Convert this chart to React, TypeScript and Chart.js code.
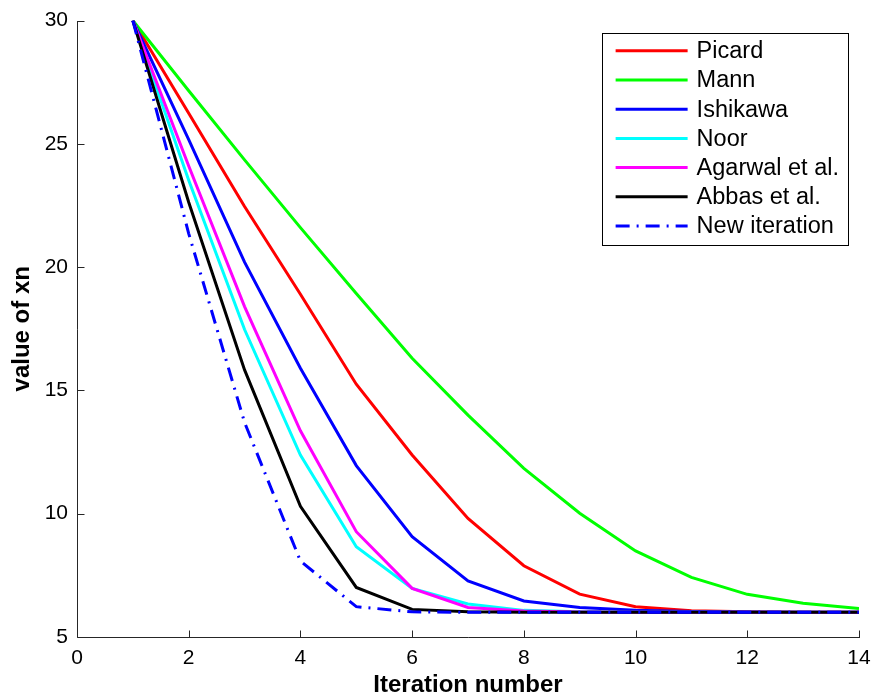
import React, { useEffect, useRef } from "react";
import { Chart, registerables } from "chart.js";

Chart.register(...registerables);

// ---- data ----
const iterations = [1, 2, 3, 4, 5, 6, 7, 8, 9, 10, 11, 12, 13, 14];
const picard = [30, 26.24, 22.46, 18.9, 15.25, 12.38, 9.81, 7.89, 6.74, 6.23, 6.06, 6.02, 6.0, 6.0];
const mann = [30, 27.15, 24.35, 21.6, 18.93, 16.3, 14.0, 11.84, 10.02, 8.49, 7.42, 6.73, 6.37, 6.16];
const ishikawa = [30, 25.17, 20.2, 15.9, 11.95, 9.07, 7.27, 6.46, 6.2, 6.08, 6.03, 6.01, 6.0, 6.0];
const noor = [30, 23.52, 17.47, 12.38, 8.66, 6.97, 6.34, 6.08, 6.02, 6.0, 6.0, 6.0, 6.0, 6.0];
const agarwal = [30, 24.1, 18.4, 13.36, 9.27, 6.97, 6.2, 6.05, 6.01, 6.0, 6.0, 6.0, 6.0, 6.0];
const abbas = [30, 22.63, 15.83, 10.3, 7.01, 6.12, 6.02, 6.0, 6.0, 6.0, 6.0, 6.0, 6.0, 6.0];
const newIteration = [30, 21.36, 13.7, 8.08, 6.23, 6.02, 6.0, 6.0, 6.0, 6.0, 6.0, 6.0, 6.0, 6.0];

const seriesNames = ["Picard", "Mann", "Ishikawa", "Noor", "Agarwal et al.", "Abbas et al.", "New iteration"];
const seriesValues = [picard, mann, ishikawa, noor, agarwal, abbas, newIteration];
const seriesColors = ["#ff0000", "#00ff00", "#0000ff", "#00ffff", "#ff00ff", "#000000", "#0000ff"];
const seriesDashes: number[][] = [[], [], [], [], [], [], [14, 7, 2, 7]];

const xTickValues = [0, 2, 4, 6, 8, 10, 12, 14];
const yTickValues = [5, 10, 15, 20, 25, 30];
const xTitle = "Iteration number";
const yTitle = "value of xn";

const FONT = "'Liberation Sans', Arial, Helvetica, sans-serif";

const matlabAxes = {
  id: "matlabAxes",
  afterDraw(chart: any) {
    const { ctx, chartArea } = chart;
    const { left, right, top, bottom } = chartArea;
    const xs = chart.scales.x;
    const ys = chart.scales.y;
    ctx.save();
    ctx.strokeStyle = "#262626";
    ctx.lineWidth = 1;
    ctx.beginPath();
    const L = Math.round(left) + 0.5;
    const B = Math.round(bottom) + 0.5;
    ctx.moveTo(L, Math.round(top));
    ctx.lineTo(L, B);
    ctx.lineTo(Math.round(right) + 1, B);
    xs.ticks.forEach((t: any) => {
      const px = Math.round(xs.getPixelForValue(t.value)) + 0.5;
      ctx.moveTo(px, B);
      ctx.lineTo(px, B - 7);
    });
    ys.ticks.forEach((t: any) => {
      const py = Math.round(ys.getPixelForValue(t.value)) + 0.5;
      ctx.moveTo(L, py);
      ctx.lineTo(L + 7, py);
    });
    ctx.stroke();

    // legend
    const ds = chart.data.datasets;
    ctx.font = `23.5px ${FONT}`;
    let maxW = 0;
    ds.forEach((d: any) => {
      maxW = Math.max(maxW, ctx.measureText(d.label).width);
    });
    const rowH = 29.2;
    const boxW = 95 + maxW + 9;
    const boxH = rowH * ds.length + 8;
    const boxRight = right - 11;
    const boxTop = top + 12;
    const boxLeft = boxRight - boxW;
    ctx.fillStyle = "#ffffff";
    ctx.fillRect(boxLeft, boxTop, boxW, boxH);
    ctx.strokeStyle = "#000000";
    ctx.lineWidth = 1;
    ctx.strokeRect(Math.round(boxLeft) + 0.5, Math.round(boxTop) + 0.5, Math.round(boxW), Math.round(boxH));
    ds.forEach((d: any, i: number) => {
      const cy = boxTop + 18.3 + i * rowH;
      ctx.save();
      ctx.strokeStyle = d.borderColor;
      ctx.lineWidth = d.borderWidth;
      ctx.setLineDash(d.borderDash || []);
      ctx.beginPath();
      ctx.moveTo(boxLeft + 14, cy);
      ctx.lineTo(boxLeft + 86, cy);
      ctx.stroke();
      ctx.restore();
      ctx.fillStyle = "#000000";
      ctx.textBaseline = "middle";
      ctx.textAlign = "left";
      ctx.fillText(d.label, boxLeft + 95, cy + 1);
    });
    ctx.restore();
  },
};

export default function App() {
  const canvasRef = useRef<HTMLCanvasElement | null>(null);

  useEffect(() => {
    if (!canvasRef.current) return;
    const datasets = seriesNames.map((name, i) => ({
      label: name,
      data: iterations.map((it, k) => ({ x: it, y: seriesValues[i][k] })),
      borderColor: seriesColors[i],
      backgroundColor: seriesColors[i],
      borderWidth: 3,
      borderDash: seriesDashes[i],
      pointRadius: 0,
      tension: 0,
      fill: false,
      order: seriesNames.length - i,
    }));
    const chart = new Chart(canvasRef.current, {
      type: "line",
      data: { datasets },
      options: {
        animation: false,
        responsive: true,
        maintainAspectRatio: false,
        layout: { padding: { top: 20.5, right: 15, left: 0, bottom: 0 } },
        plugins: { legend: { display: false }, tooltip: { enabled: false } },
        scales: {
          x: {
            type: "linear",
            min: 0,
            max: 14,
            afterBuildTicks: (s: any) => {
              s.ticks = xTickValues.map((v) => ({ value: v }));
            },
            afterFit: (s: any) => {
              s.height = 63;
              s.paddingLeft = 0;
              s.paddingRight = 0;
            },
            grid: { display: false, drawTicks: false },
            border: { display: false },
            ticks: {
              color: "#000000",
              padding: 9,
              maxRotation: 0,
              autoSkip: false,
              font: { family: FONT, size: 21 },
            },
            title: {
              display: true,
              text: xTitle,
              color: "#000000",
              font: { family: FONT, size: 24, weight: "bold" },
              padding: { top: 0, bottom: 0.5 },
            },
          },
          y: {
            type: "linear",
            min: 5,
            max: 30,
            afterBuildTicks: (s: any) => {
              s.ticks = yTickValues.map((v) => ({ value: v }));
            },
            afterFit: (s: any) => {
              s.width = 77;
              s.paddingTop = 0;
              s.paddingBottom = 0;
            },
            grid: { display: false, drawTicks: false },
            border: { display: false },
            ticks: {
              color: "#000000",
              padding: 9,
              autoSkip: false,
              font: { family: FONT, size: 21 },
            },
            title: {
              display: true,
              text: yTitle,
              color: "#000000",
              font: { family: FONT, size: 24, weight: "bold" },
              padding: { top: 7.5, bottom: 0 },
            },
          },
        },
      },
      plugins: [matlabAxes],
    });
    return () => chart.destroy();
  }, []);

  return (
    <div style={{ position: "fixed", left: 0, top: 0, width: 874, height: 700, background: "#ffffff" }}>
      <canvas ref={canvasRef} />
    </div>
  );
}
